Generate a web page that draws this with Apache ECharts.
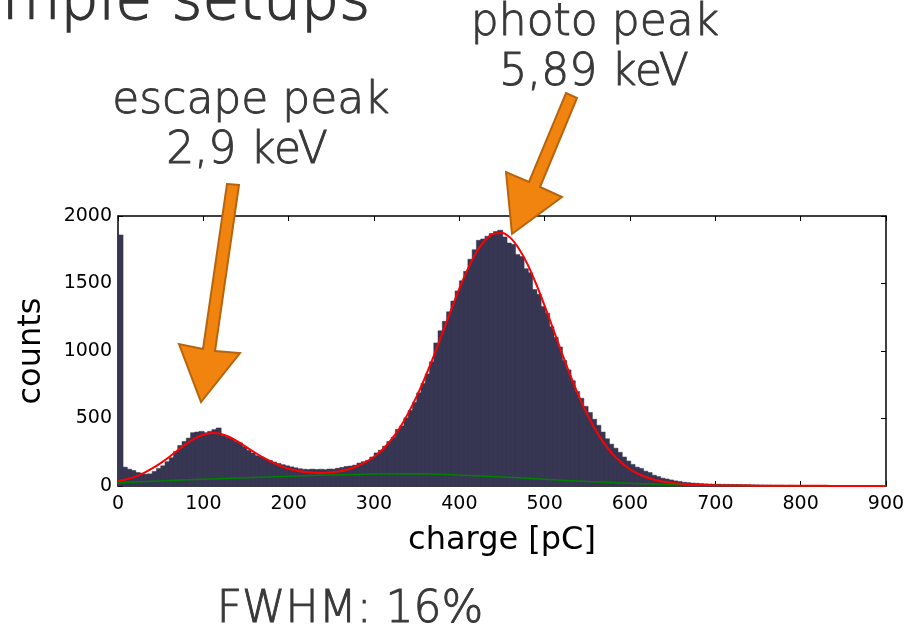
<!DOCTYPE html>
<html>
<head>
<meta charset="utf-8">
<title>charge spectrum</title>
<script src="https://cdn.jsdelivr.net/npm/echarts@6/dist/echarts.min.js"></script>
<style>
  html, body { margin: 0; padding: 0; background: #fff; }
  #chart { width: 920px; height: 632px; }
</style>
</head>
<body>
<div id="chart"></div>
<script>
// histogram: counts per 5 pC bin, starting at 0 pC
const BIN_WIDTH = 5;
const counts = [
  1860, 140, 125, 115, 100, 95, 88, 90, 108, 130,
  150, 180, 210, 255, 300, 330, 355, 395, 400, 405,
  395, 405, 418, 430, 375, 362, 350, 330, 320, 290,
  265, 245, 225, 215, 200, 190, 178, 168, 158, 150,
  142, 135, 128, 124, 122, 125, 122, 124, 121, 126,
  125, 132, 138, 145, 148, 155, 170, 180, 190, 215,
  245, 265, 295, 330, 360, 420, 445, 505, 560, 620,
  690, 760, 830, 920, 1060, 1150, 1220, 1290, 1370, 1445,
  1520, 1590, 1680, 1750, 1820, 1830, 1850, 1870, 1885, 1895,
  1845, 1800, 1790, 1715, 1700, 1610, 1580, 1455, 1420, 1330,
  1280, 1180, 1100, 1030, 930, 860, 780, 700, 650, 590,
  545, 495, 450, 400, 350, 310, 280, 250, 215, 185,
  160, 140, 130, 110, 100, 80, 70, 58, 52, 45,
  38, 34, 28, 25, 22, 20, 18, 16, 15, 14,
  13, 12, 12, 11, 10, 10, 9, 9, 8, 8,
  7, 6, 6, 5, 5, 5, 4, 5, 4, 4,
  3, 4, 3, 3, 2, 3, 2, 2, 2, 2,
  2, 1, 2, 1, 1, 1, 1, 1, 1, 1
];

// red fit, sampled every 10 pC from 0 to 900
const FIT_STEP = 10;
const fitValues = [
  38, 50, 68, 95, 130, 170, 215, 265, 312, 352,
  380, 393, 388, 365, 330, 290, 250, 212, 178, 150,
  128, 113, 104, 99, 97, 101, 109, 124, 146, 176,
  217, 271, 342, 429, 538, 664, 807, 964, 1130, 1299,
  1462, 1608, 1731, 1819, 1869, 1875, 1838, 1756, 1642, 1497,
  1335, 1162, 988, 821, 666, 529, 411, 314, 234, 172,
  124, 89, 63, 45, 32, 23, 17, 12, 9, 7,
  5, 4, 4, 3, 3, 2, 2, 2, 1, 1,
  1, 1, 1, 1, 0, 0, 0, 0, 0, 0, 0
];

// green background, sampled every 50 pC
const BG_STEP = 50;
const bgValues = [24, 37, 50, 62, 72, 82, 88, 90, 80, 67, 50, 33, 20, 11, 5, 2, 1, 0, 0];

const xTicks = [0, 900, 100];
const yTicks = [0, 2000, 500];

const barColor = '#373753';
const textColor = '#383838';
const slideFont = 'DejaVu Sans';
const slideWeight = 200;

const histData = counts.map((c, i) => [i * BIN_WIDTH, (i + 1) * BIN_WIDTH, c]);
const fitData = fitValues.map((v, i) => [i * FIT_STEP, v]);
const bgData = bgValues.map((v, i) => [i * BG_STEP, v]);

const chart = echarts.init(document.getElementById('chart'));

const frameAxis = {
  axisLine: { show: true, onZero: false, lineStyle: { color: '#000', width: 1.5 } },
  axisTick: { show: true, inside: true, length: 5, lineStyle: { color: '#000' } },
  splitLine: { show: false }
};

// slide texts: thin face with a light stroke to get a medium weight
function slideText(text, x, y) {
  return {
    type: 'text', x: x, y: y, z: 50,
    style: {
      text: text, fontSize: 44, fontFamily: slideFont, fontWeight: slideWeight,
      fill: textColor, stroke: textColor, lineWidth: 0.9,
      align: 'center', verticalAlign: 'middle'
    }
  };
}

const option = {
  animation: false,
  backgroundColor: '#fff',
  grid: { left: 118, right: 34, top: 216, bottom: 146 },
  xAxis: [
    {
      type: 'value', position: 'bottom',
      min: xTicks[0], max: xTicks[1], interval: xTicks[2],
      ...frameAxis,
      axisLabel: { color: '#000', fontSize: 19, fontFamily: 'DejaVu Sans', margin: 9, formatter: v => String(v) },
      name: 'charge [pC]', nameLocation: 'middle', nameGap: 39,
      nameTextStyle: { color: '#000', fontSize: 32, fontFamily: 'DejaVu Sans', verticalAlign: 'top' }
    },
    {
      type: 'value', position: 'top',
      min: xTicks[0], max: xTicks[1], interval: xTicks[2],
      ...frameAxis,
      axisLabel: { show: false }
    }
  ],
  yAxis: [
    {
      type: 'value', position: 'left',
      min: yTicks[0], max: yTicks[1], interval: yTicks[2],
      ...frameAxis,
      axisLabel: { color: '#000', fontSize: 19, fontFamily: 'DejaVu Sans', margin: 6, formatter: v => String(v) },
      name: 'counts', nameLocation: 'middle', nameGap: 70, nameRotate: 90,
      nameTextStyle: { color: '#000', fontSize: 32, fontFamily: 'DejaVu Sans' }
    },
    {
      type: 'value', position: 'right',
      min: yTicks[0], max: yTicks[1], interval: yTicks[2],
      ...frameAxis,
      axisLabel: { show: false }
    }
  ],
  series: [
    {
      // histogram bars, one rect per bin
      type: 'custom',
      xAxisIndex: 0, yAxisIndex: 0,
      data: histData,
      renderItem: function (params, api) {
        const p0 = api.coord([api.value(0), api.value(2)]);
        const p1 = api.coord([api.value(1), 0]);
        return {
          type: 'rect',
          shape: { x: p0[0], y: p0[1], width: p1[0] - p0[0] + 0.8, height: p1[1] - p0[1] },
          style: { fill: barColor, stroke: barColor, lineWidth: 0.5 }
        };
      },
      z: 1
    },
    {
      type: 'line', name: 'background',
      xAxisIndex: 0, yAxisIndex: 0,
      data: bgData, smooth: 0.4, showSymbol: false,
      lineStyle: { color: '#008000', width: 1.5 },
      z: 2
    },
    {
      type: 'line', name: 'fit',
      xAxisIndex: 0, yAxisIndex: 0,
      data: fitData, smooth: 0.3, showSymbol: false,
      lineStyle: { color: '#ff0000', width: 2 },
      z: 3
    }
  ],
  graphic: [
    // slide title, cut off at the top left like the original
    {
      type: 'text', x: 2, y: 3, z: 50,
      style: {
        text: 'mple setups', fontSize: 60, fontFamily: slideFont, fontWeight: slideWeight,
        fill: '#333', stroke: '#333', lineWidth: 1.3, verticalAlign: 'middle'
      }
    },
    slideText('photo peak', 595, 24),
    slideText('5,89 keV', 594, 74),
    slideText('escape peak', 251, 102),
    slideText('2,9 keV', 247, 152),
    slideText('FWHM: 16%', 350, 611),
    // orange arrows
    {
      type: 'polygon', z: 100,
      shape: { points: [[227, 184], [239, 185], [215, 351], [240, 353], [201, 402], [179, 344], [203, 349]] },
      style: { fill: '#f0840f', stroke: '#b8640c', lineWidth: 2 }
    },
    {
      type: 'polygon', z: 100,
      shape: { points: [[566, 93], [577, 98], [540, 187], [562, 197], [512, 234], [506, 172], [529, 182]] },
      style: { fill: '#f0840f', stroke: '#b8640c', lineWidth: 2 }
    }
  ]
};

chart.setOption(option);
</script>
</body>
</html>
